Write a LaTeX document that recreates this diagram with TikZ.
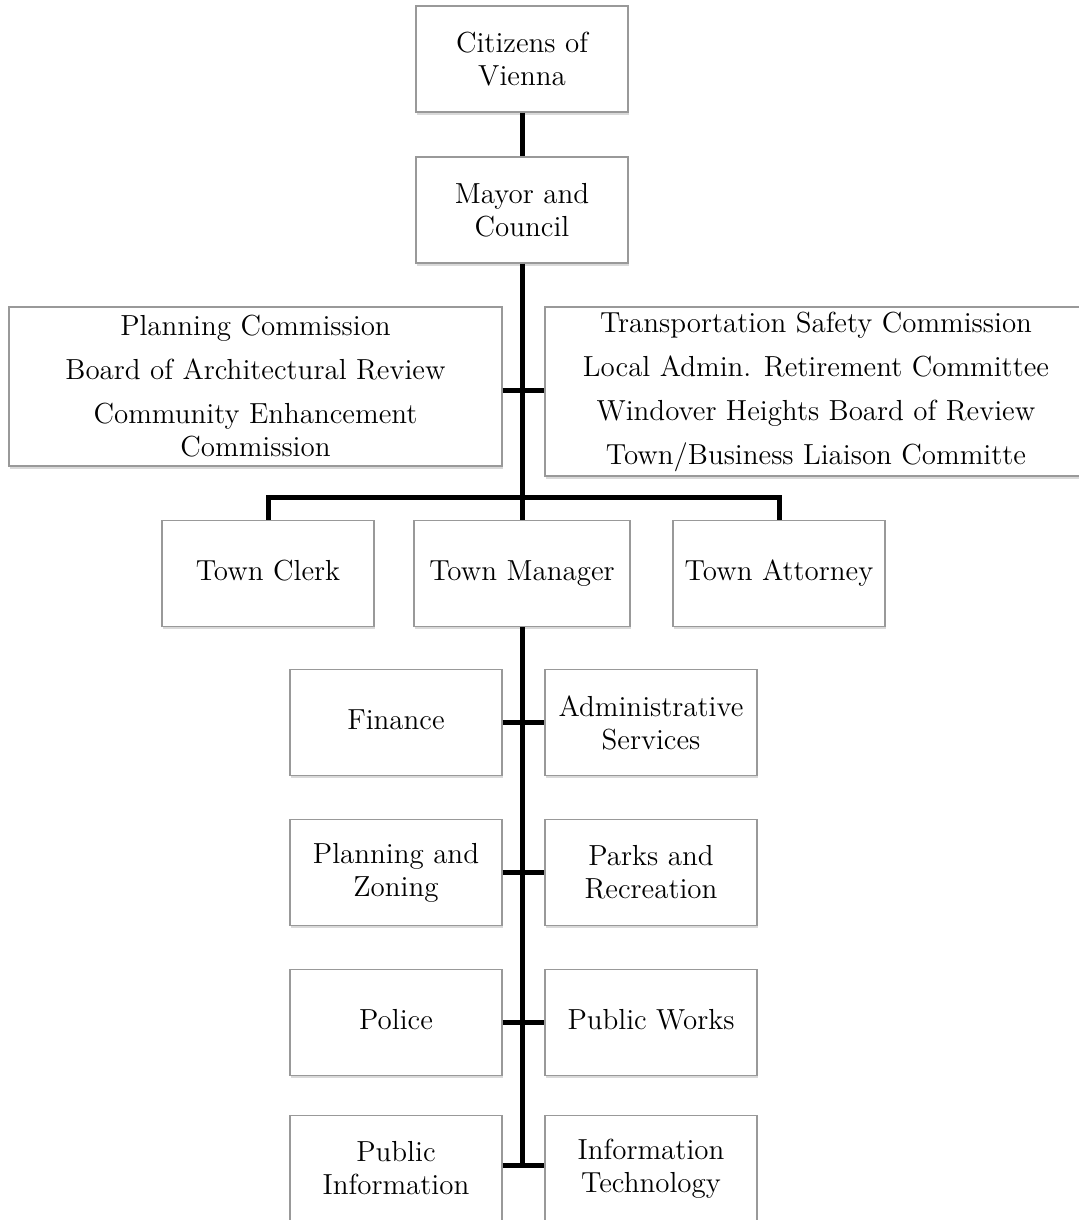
\documentclass[tikz,border=0pt]{standalone}
\usetikzlibrary{shadows}
\begin{document}
\begin{tikzpicture}[x=0.5pt,y=-0.5pt,
    box/.style={draw=black!40, line width=0.6pt, fill=white, align=center,
        inner sep=2pt, font=\fontsize{14.5}{16.5}\selectfont,
        drop shadow={opacity=0.3, shadow xshift=0.6pt, shadow yshift=-1.4pt}},
    unit/.style={box, minimum width=106pt, minimum height=53pt},
    link/.style={line width=2.5pt, black}]
    \useasboundingbox (0,0) rectangle (1079,1220);
    % top of the chart
    \node[unit] (cit) at (522,59) {Citizens of\\Vienna};
    \node[unit] (may) at (522,210) {Mayor and\\Council};
    \node[box, minimum width=246.5pt, minimum height=79.5pt] (lcom) at (255.5,386.5)
        {Planning Commission\\[5.5pt] Board of Architectural Review\\[5.5pt]
         Community Enhancement\\Commission};
    \node[box, minimum width=271pt, minimum height=84.5pt] (rcom) at (816,391.5)
        {Transportation Safety Commission\\[5.5pt] Local Admin. Retirement Committee\\[5.5pt]
         Windover Heights Board of Review\\[5.5pt] Town/Business Liaison Committe};
    \coordinate (com) at (522,390);
    \coordinate (bar) at (522,497);
    \node[unit] (clerk) at (268,573.5) {\strut Town Clerk};
    \node[unit, minimum width=108pt] (mgr) at (522,573.5) {\strut Town Manager};
    \node[unit] (atty) at (779,573.5) {\strut Town Attorney};
    % departments
    \node[unit] (fin) at (396,722.5) {\strut Finance};
    \node[unit] (adm) at (651,722.5) {Administrative\\Services};
    \node[unit] (pz) at (396,872.5) {Planning and\\Zoning};
    \node[unit] (pr) at (651,872.5) {Parks and\\Recreation};
    \node[unit] (pol) at (396,1022.5) {\strut Police};
    \node[unit] (pw) at (651,1022.5) {\strut Public Works};
    \node[unit] (pi) at (396,1168.5) {Public\\Information};
    \node[unit] (it) at (651,1168.5) {Information\\Technology};
    \coordinate (last) at (522,1165);
    % connectors
    \draw[link] (cit) -- (may);
    \draw[link] (may) -- (bar);
    \draw[link] (com -| lcom.east) -- (com -| rcom.west);
    \draw[link] (clerk.north) |- (bar) -| (atty.north);
    \draw[link] (bar) -- (mgr);
    \draw[link] (mgr) -- (last);
    \draw[link] (fin) -- (adm);
    \draw[link] (pz) -- (pr);
    \draw[link] (pol) -- (pw);
    \draw[link] (last -| pi.east) -- (last -| it.west);
\end{tikzpicture}
\end{document}
